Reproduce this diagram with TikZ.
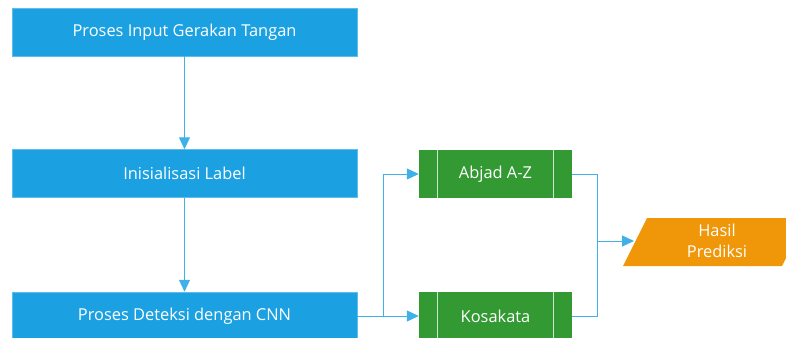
\documentclass[tikz,border=0pt]{standalone}
\usepackage{fontspec}
\setmainfont{Open Sans}
\usetikzlibrary{arrows.meta}
\definecolor{procblue}{HTML}{1BA1E2}
\definecolor{linkblue}{HTML}{3FB0E8}
\definecolor{libgreen}{HTML}{339933}
\definecolor{outorange}{HTML}{F09609}
\begin{document}
\begin{tikzpicture}[x=1pt,y=-1pt,
  every node/.style={font=\fontsize{16.4}{20.5}\selectfont, text=white},
  procbox/.style={rectangle, fill=procblue, draw=procblue!70!white, line width=0.5pt,
    minimum width=345pt, minimum height=48pt, inner sep=0pt},
  libbox/.style={rectangle, fill=libgreen, minimum width=153pt, minimum height=48pt, inner sep=0pt},
  link/.style={draw=linkblue, line width=1pt},
  conn/.style={link, -{Triangle[length=12pt,width=11pt]}}]
\useasboundingbox (0,0) rectangle (786,337);
\clip (0,0) rectangle (786,337);

% main process column
\node[procbox] (input) at (184.5,32) {Proses Input Gerakan Tangan};
\node[procbox] (label) at (184.5,173.5) {Inisialisasi Label};
\node[procbox] (cnn) at (184.5,316) {Proses Deteksi dengan CNN};

% predefined-process boxes
\node[libbox] (abjad) at (495.5,174) {Abjad A-Z};
\node[libbox] (kosa) at (495.5,316) {Kosakata};
\foreach \b in {abjad,kosa}{
  \draw[white!75!libgreen, line width=0.8pt]
    ([xshift=19pt]\b.north west) -- ([xshift=19pt]\b.south west)
    ([xshift=-19pt]\b.north east) -- ([xshift=-19pt]\b.south east);
}

% output parallelogram
\fill[outorange] (623,266) -- (647,218) -- (806,218) -- (782,266) -- cycle;
\node[align=center, inner sep=0pt] (hasil) at (717,241) {Hasil\\Prediksi};
\coordinate (hasilL) at (634,241);
\coordinate (join) at (597,241);

% connectors
\draw[conn] (input.south) -- (label.north);
\draw[conn] (label.south) -- (cnn.north);
\draw[conn] (cnn.east) -- ++(26,0) |- (abjad.west);
\draw[conn] (cnn.east) -- (kosa.west);
\draw[link] (abjad.east) -| (join);
\draw[link] (kosa.east) -| (join);
\draw[conn] (join) -- (hasilL);
\end{tikzpicture}
\end{document}
